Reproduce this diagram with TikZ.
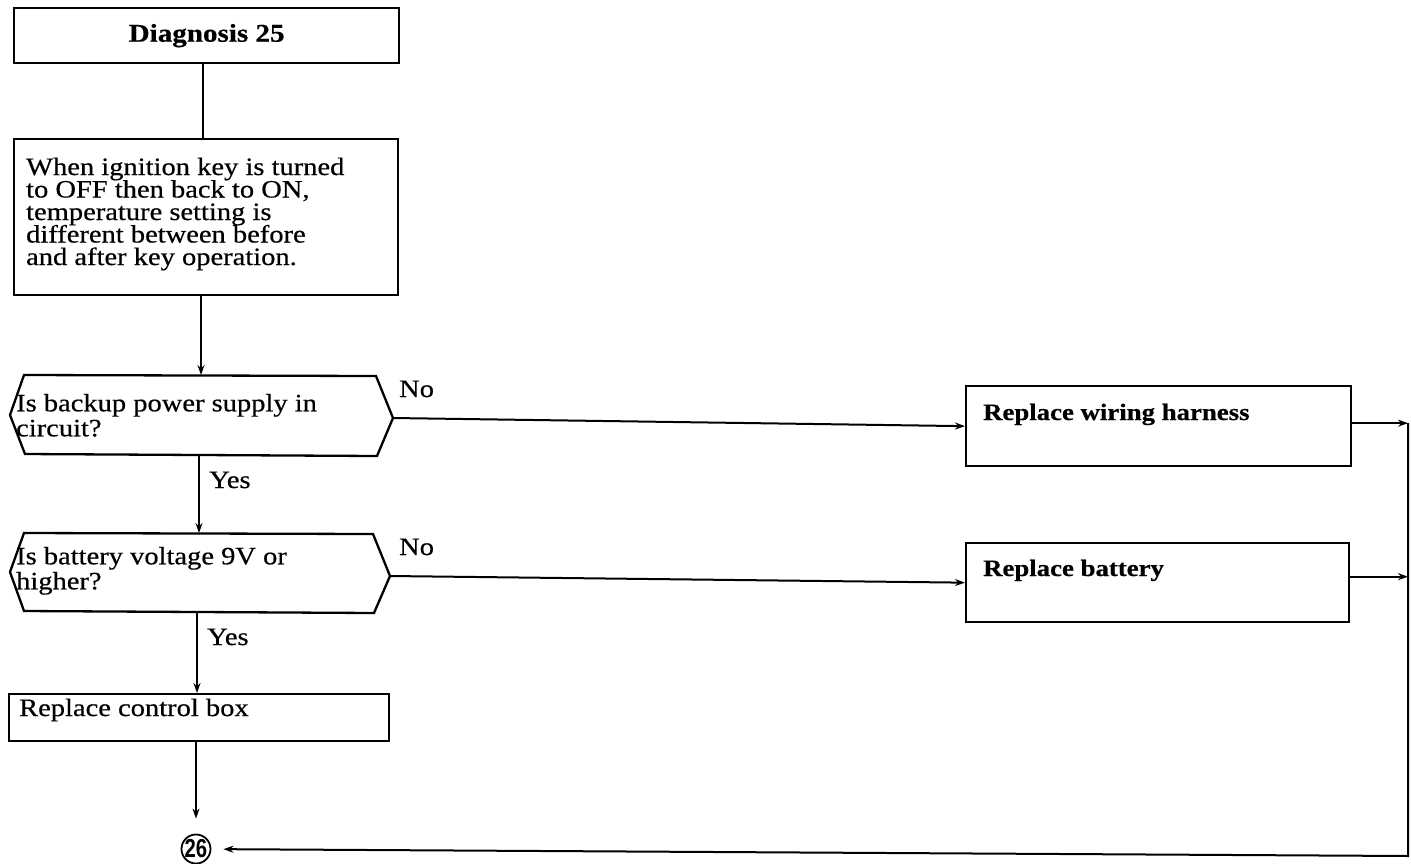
\documentclass[tikz,border=0pt]{standalone}
\usepackage{fontspec}
\setmainfont{Liberation Serif}[FakeStretch=1.14,FakeBold=0.5]
\newfontfamily\circnum{Liberation Sans Bold}[FakeStretch=0.78]
\usetikzlibrary{arrows.meta}
\newcommand\tightlines{\lineskiplimit=-50pt\relax\lineskip=0pt\relax}

\begin{document}
\begin{tikzpicture}[x=1pt,y=-1pt,line width=2.3pt,
  txt/.style={inner sep=0pt,align=left,
    font={\fontsize{25}{22.5}\selectfont\tightlines}},
  boldtxt/.style={inner sep=0pt,align=left,
    font={\fontsize{23.5}{21.5}\selectfont\bfseries}},
  boxshape/.style={draw,inner sep=0pt,anchor=north west},
  link/.style={-{Stealth[length=10pt,width=7pt]}},
  plain/.style={line width=2pt}]
\useasboundingbox (0,0) rectangle (1411,863);

% --- start box and description ---
\node[boxshape,minimum width=385pt,minimum height=55pt] (diag) at (13,7) {};
\node[txt,font={\fontsize{25.5}{21.5}\selectfont\bfseries}] (diagt) at (diag.center) {Diagnosis 25};

\node[boxshape,minimum width=384pt,minimum height=156pt] (desc) at (13,138) {};
\node[txt,anchor=north west] (desct) at (25,156.5)
  {When ignition key is turned\\to OFF then back to ON,\\temperature setting is\\different between before\\and after key operation.};

% --- decision 1 ---
\coordinate (h1w) at (10,415);
\coordinate (h1nw) at (24,375);
\coordinate (h1ne) at (376,376);
\coordinate (h1e) at (393,418);
\coordinate (h1se) at (377,456);
\coordinate (h1sw) at (25,454);
\coordinate (h1n) at (201,375);
\coordinate (h1s) at (199,455);
\draw (h1w) -- (h1nw) -- (h1ne) -- (h1e) -- (h1se) -- (h1sw) -- cycle;
\node[txt,anchor=north west] (h1t) at (15,392.8)
  {Is backup power supply in\\[2.5pt]circuit?};

% --- decision 2 ---
\coordinate (h2w) at (10,572);
\coordinate (h2nw) at (24,533);
\coordinate (h2ne) at (373,534);
\coordinate (h2e) at (390,576);
\coordinate (h2se) at (374,613);
\coordinate (h2sw) at (24,611);
\coordinate (h2n) at (199,533);
\coordinate (h2s) at (197,612);
\draw (h2w) -- (h2nw) -- (h2ne) -- (h2e) -- (h2se) -- (h2sw) -- cycle;
\node[txt,anchor=north west] (h2t) at (15,545.8)
  {Is battery voltage 9V or\\[2.5pt]higher?};

% --- action boxes ---
\node[boxshape,minimum width=385pt,minimum height=80pt] (wire) at (965,385) {};
\node[boldtxt,anchor=base west] (wiret) at (982,420) {Replace wiring harness};

\node[boxshape,minimum width=383pt,minimum height=79pt] (batt) at (965,542) {};
\node[boldtxt,anchor=base west] (battt) at (982,576) {Replace battery};

\node[boxshape,minimum width=380pt,minimum height=47pt] (ctrl) at (8,693) {};
\node[txt,anchor=base west] (ctrlt) at (18,716) {Replace control box};

% --- connector reference ---
\node[draw,circle,minimum size=26pt,inner sep=0pt,line width=1.8pt,
  font={\fontsize{26}{26}\circnum}] (c26) at (196,849) {26};

% --- labels ---
\node[txt,anchor=base west] (no1) at (398,397) {No};
\node[txt,anchor=base west] (no2) at (398,555) {No};
\node[txt,anchor=base west] (yes1) at (208,488) {Yes};
\node[txt,anchor=base west] (yes2) at (206,645) {Yes};

% --- connectors ---
\draw[plain] (diag.south -| 203,0) -- (desc.north -| 203,0);
\draw[plain,link] (desc.south -| h1n) -- (h1n);
\draw[plain,link] (h1s) -- (h2n);
\draw[plain,link] (h2s) -- (ctrl.north -| h2s);
\draw[plain,link,shorten >=15pt] (ctrl.south -| 196,0) -- (c26);

\draw[plain,link] (h1e) -- (wire.west);
\draw[plain,link] (h2e) -- (batt.west);

\coordinate (rail) at (1408,0);
\coordinate (railbot) at (1408,856);
\draw[plain,link] ([yshift=3pt]wire.east) -- ([yshift=3pt]wire.east -| rail);
\draw[plain,link] ([yshift=6pt]batt.east) -- ([yshift=6pt]batt.east -| rail);
\draw[plain,link,shorten >=12pt] ([yshift=3pt]wire.east -| rail) -- (railbot) -- (c26);
\end{tikzpicture}
\end{document}
